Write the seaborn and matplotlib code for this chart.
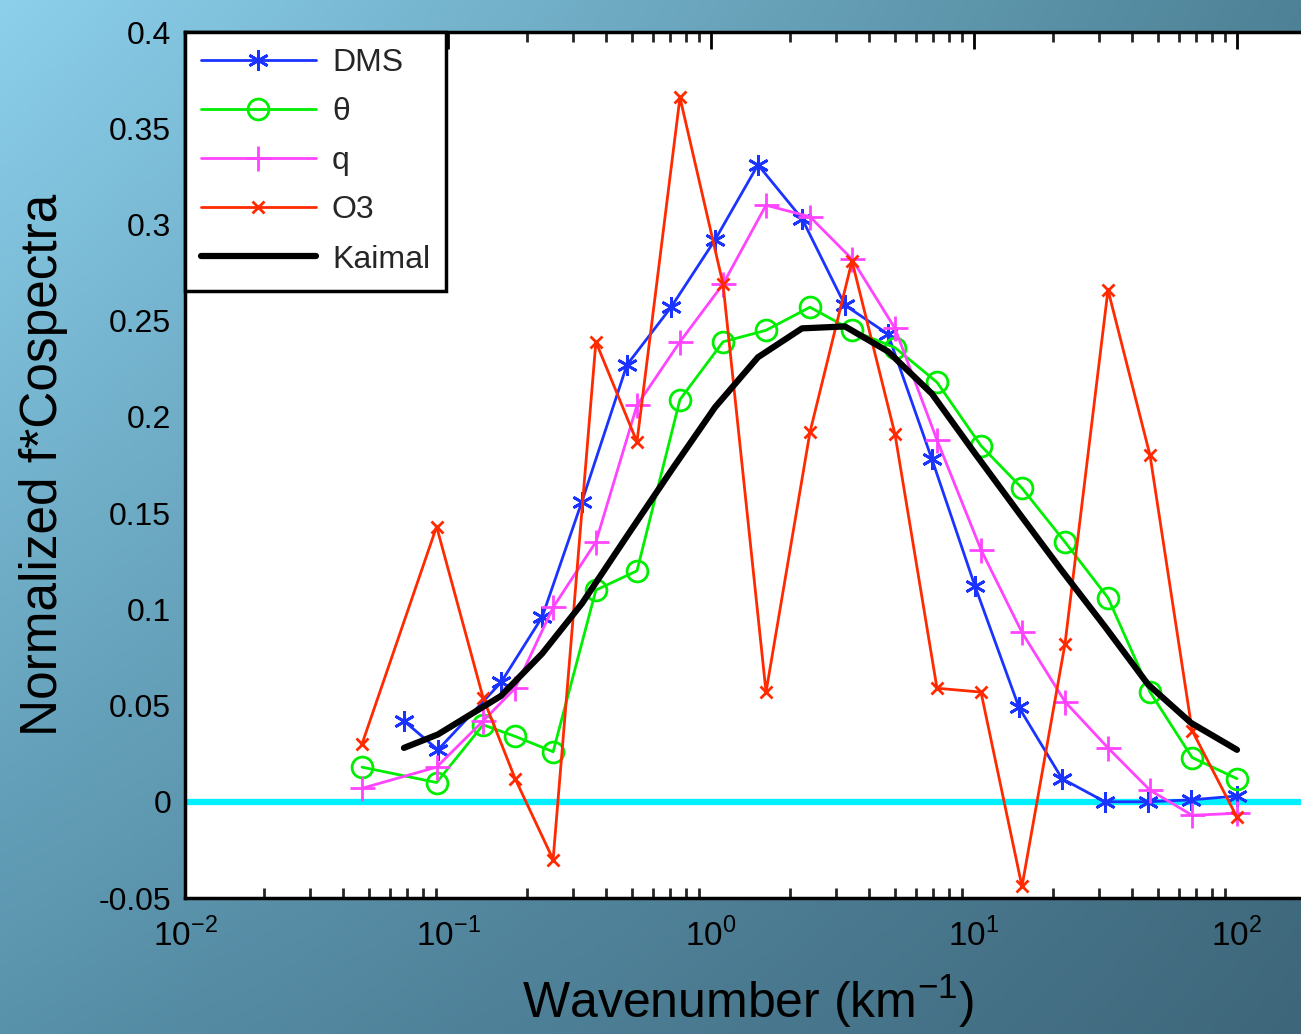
import numpy as np
import pandas as pd
import matplotlib
matplotlib.use("Agg")
import matplotlib.pyplot as plt
import seaborn as sns
from matplotlib.lines import Line2D
from matplotlib.ticker import FixedLocator, FixedFormatter, LogLocator, NullFormatter

sns.set_theme(style="white")
plt.rcParams['font.family'] = ['Liberation Sans', 'DejaVu Sans']
plt.rcParams['mathtext.fontset'] = 'custom'
plt.rcParams['mathtext.rm'] = 'Liberation Sans'

# ---------------- data ----------------
x_dms = [0.068, 0.0916, 0.159, 0.228, 0.323, 0.479, 0.705, 1.036, 1.509, 2.218,
         3.232, 4.71, 6.92, 10.09, 14.83, 21.61, 31.48, 45.87, 66.86, 100.0]
y_dms = [0.042, 0.027, 0.062, 0.096, 0.156, 0.227, 0.257, 0.292, 0.331, 0.303,
         0.258, 0.243, 0.178, 0.112, 0.049, 0.012, 0.0, 0.0, 0.001, 0.003]

x_oth = [0.0471, 0.0905, 0.136, 0.180, 0.251, 0.365, 0.523, 0.762, 1.111, 1.619,
         2.378, 3.437, 5.007, 7.232, 10.63, 15.22, 22.18, 32.32, 46.70, 67.5, 100.0]
y_theta = [0.018, 0.010, 0.040, 0.034, 0.026, 0.110, 0.120, 0.209, 0.239, 0.245,
           0.257, 0.245, 0.236, 0.218, 0.185, 0.163, 0.135, 0.106, 0.057, 0.023, 0.012]
y_q = [0.007, 0.018, 0.042, 0.059, 0.101, 0.135, 0.206, 0.239, 0.269, 0.310,
       0.304, 0.282, 0.246, 0.188, 0.131, 0.088, 0.052, 0.028, 0.006, -0.007, -0.006]
y_o3 = [0.030, 0.143, 0.054, 0.012, -0.030, 0.239, 0.187, 0.366, 0.269, 0.057,
        0.192, 0.281, 0.191, 0.059, 0.057, -0.044, 0.082, 0.266, 0.180, 0.037, -0.008]

y_kaimal = [0.028, 0.035, 0.055, 0.077, 0.103, 0.138, 0.172, 0.205, 0.231, 0.246,
            0.247, 0.234, 0.212, 0.181, 0.150, 0.120, 0.091, 0.061, 0.041, 0.027]

legend_labels = ["DMS", "θ", "q", "O3", "Kaimal"]
ytick_vals = [-0.05, 0, 0.05, 0.1, 0.15, 0.2, 0.25, 0.3, 0.35, 0.4]
ytick_labels = ["-0.05", "0", "0.05", "0.1", "0.15", "0.2", "0.25", "0.3", "0.35", "0.4"]
xtick_vals = [1e-2, 1e-1, 1e0, 1e1, 1e2, 1e3]
xtick_labels = [r"$10^{-2}$", r"$10^{-1}$", r"$10^{0}$", r"$10^{1}$", r"$10^{2}$", ""]

# ---------------- figure ----------------
W, H = 1301, 1034
fig = plt.figure(figsize=(W / 100, H / 100), dpi=100)

# background gradient
bg = fig.add_axes([0, 0, 1, 1], zorder=-10)
gx = np.linspace(0, 1, 300)[None, :, None]
gy = np.linspace(0, 1, 240)[:, None, None]
tl = np.array([140, 208, 236]) / 255
tr = np.array([78, 130, 150]) / 255
bl = np.array([88, 145, 170]) / 255
br = np.array([62, 102, 122]) / 255
img = (tl * (1 - gx) * (1 - gy) + tr * gx * (1 - gy) + bl * (1 - gx) * gy + br * gx * gy)
bg.imshow(img, aspect='auto', extent=[0, 1, 0, 1], origin='upper')
bg.axis('off')

left = 185 / W
bottom = (H - 898) / H
top = (H - 32) / H
ax = fig.add_axes([left, bottom, 1315 / W, top - bottom])
ax.set_facecolor('white')

blue = '#1a33ff'
green = '#00ee00'
magenta = '#ff44ff'
red = '#ff2a00'

ax.axhline(0, color='#00f0ff', lw=4.5, zorder=1)

sns.lineplot(x=x_dms, y=y_dms, ax=ax, color=blue, lw=2, marker=(6, 2, 0), markersize=15,
             markeredgewidth=2, markeredgecolor=blue, sort=False, estimator=None, zorder=3)
sns.lineplot(x=x_oth, y=y_theta, ax=ax, color=green, lw=2, marker='o', markersize=15,
             markerfacecolor='none', markeredgewidth=2, markeredgecolor=green, sort=False,
             estimator=None, zorder=3)
sns.lineplot(x=x_oth, y=y_q, ax=ax, color=magenta, lw=2, marker='+', markersize=18,
             markeredgewidth=2, markeredgecolor=magenta, sort=False, estimator=None, zorder=3)
sns.lineplot(x=x_oth, y=y_o3, ax=ax, color=red, lw=2, marker='x', markersize=9,
             markeredgewidth=2, markeredgecolor=red, sort=False, estimator=None, zorder=3)
sns.lineplot(x=x_dms, y=y_kaimal, ax=ax, color='black', lw=4.5, sort=False, estimator=None, zorder=4)

ax.set_xscale('log')
ax.set_xlim(1e-2, 1e3)
ax.set_ylim(-0.05, 0.4)

ax.xaxis.set_major_locator(FixedLocator(xtick_vals))
ax.xaxis.set_major_formatter(FixedFormatter(xtick_labels))
ax.xaxis.set_minor_locator(LogLocator(base=10, subs=np.arange(2, 10), numticks=20))
ax.xaxis.set_minor_formatter(NullFormatter())
ax.yaxis.set_major_locator(FixedLocator(ytick_vals))
ax.yaxis.set_major_formatter(FixedFormatter(ytick_labels))

ax.tick_params(axis='both', which='major', direction='in', length=12, width=2,
               top=True, right=True, labelsize=23, colors='black', pad=10)
ax.tick_params(axis='x', which='minor', direction='in', length=7, width=2,
               top=True, bottom=True)
ax.tick_params(axis='x', which='major', pad=14, labelsize=24)

for s in ax.spines.values():
    s.set_visible(True)
    s.set_color('black')
    s.set_linewidth(2.5)

ax.set_xlabel(r"Wavenumber (km$^{-1}$)", fontsize=36, color='black')
ax.set_ylabel("Normalized f*Cospectra", fontsize=37, labelpad=22, color='black')
ax.xaxis.set_label_coords((748 - 185) / 1315, -0.086)

handles = [
    Line2D([], [], color=blue, lw=2, marker=(6, 2, 0), markersize=15, markeredgewidth=2),
    Line2D([], [], color=green, lw=2, marker='o', markersize=15, markerfacecolor='none', markeredgewidth=2),
    Line2D([], [], color=magenta, lw=2, marker='+', markersize=18, markeredgewidth=2),
    Line2D([], [], color=red, lw=2, marker='x', markersize=9, markeredgewidth=2),
    Line2D([], [], color='black', lw=4.5),
]
leg = ax.legend(handles, legend_labels, loc='upper left', bbox_to_anchor=(0, 1),
                borderaxespad=0, fontsize=23, handlelength=3.6, handletextpad=0.5,
                labelspacing=0.6, frameon=True, fancybox=False, framealpha=1,
                borderpad=0.5)
leg.get_frame().set_edgecolor('black')
leg.get_frame().set_linewidth(2.5)

fig.savefig('out.png', dpi=100)
